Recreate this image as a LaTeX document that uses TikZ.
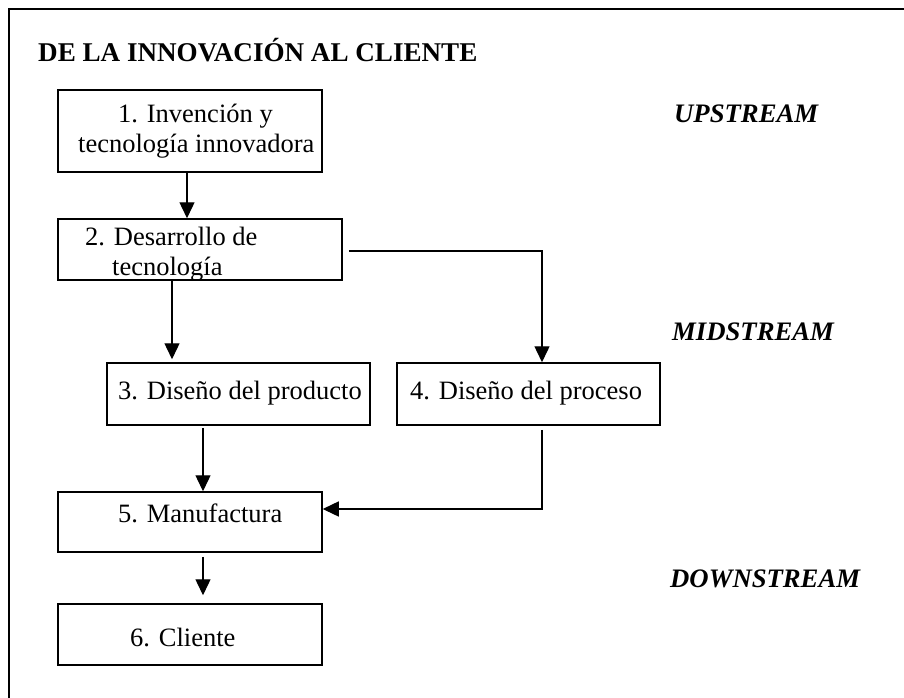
\documentclass[tikz,border=0pt]{standalone}
\usepackage{fontspec}
\setmainfont{Liberation Serif}
\usetikzlibrary{arrows.meta}
\begin{document}
\begin{tikzpicture}[x=1pt,y=-1pt,
  box/.style={draw,line width=1.5pt,inner sep=0pt},
  txt/.style={anchor=base west,inner sep=0pt,font=\fontsize{26.5}{30}\selectfont},
  lbl/.style={txt,font=\fontsize{26.7}{30}\selectfont\bfseries\itshape},
  arr/.style={line width=1.4pt,-{Triangle[width=15pt,length=16pt]}},
  con/.style={line width=1.4pt}]
\useasboundingbox[fill=white] (0,0) rectangle (904,698);
\draw[line width=1.5pt] (904,9) -- (9,9) -- (9,698);
% title and stream labels
\node[txt,font=\fontsize{27.1}{30}\selectfont\bfseries] (title) at (38,62) {DE LA INNOVACIÓN AL CLIENTE};
\node[lbl] (up) at (674,123) {UPSTREAM};
\node[lbl] (mid) at (672,340) {MIDSTREAM};
\node[lbl] (down) at (670,587) {DOWNSTREAM};
% boxes
\node[box,minimum width=264pt,minimum height=82pt] (b1) at (190,131) {};
\node[box,minimum width=284pt,minimum height=61pt] (b2) at (200,249.5) {};
\node[box,minimum width=263pt,minimum height=62pt] (b3) at (238.5,394) {};
\node[box,minimum width=263pt,minimum height=62pt] (b4) at (528.5,394) {};
\node[box,minimum width=264pt,minimum height=60pt] (b5) at (190,522) {};
\node[box,minimum width=264pt,minimum height=61pt] (b6) at (190,634.5) {};
% box texts
\node[txt] (t1a) at (118,122) {1. Invención y};
\node[txt] (t1b) at (78,152) {tecnología innovadora};
\node[txt] (t2a) at (85,245) {2. Desarrollo de};
\node[txt] (t2b) at (112,275) {tecnología};
\node[txt] (t3) at (118,399) {3. Diseño del producto};
\node[txt] (t4) at (410,399) {4. Diseño del proceso};
\node[txt] (t5) at (118,522) {5. Manufactura};
\node[txt] (t6) at (130,646) {6. Cliente};
% connectors
\coordinate (s1) at ([xshift=-3pt]b1.south);
\draw[arr] (s1) -- (s1 |- b2.north);
\coordinate (s2) at ([xshift=-28pt]b2.south);
\coordinate (n3) at ([xshift=-66.5pt,yshift=3pt]b3.north);
\draw[arr] (s2) -- (s2 |- n3);
\coordinate (e2) at ([xshift=6pt,yshift=-1.5pt]b2.east);
\coordinate (n4) at ([xshift=13.5pt]b4.north);
\draw[arr] (e2) -| (n4);
\coordinate (s3) at ([xshift=-35.5pt,yshift=-2pt]b3.south);
\draw[arr] (s3) -- (s3 |- b5.north);
\coordinate (s4) at ([xshift=13.5pt,yshift=-4pt]b4.south);
\coordinate (e5) at ([yshift=13pt]b5.east);
\draw[arr] (s4) |- (e5);
\coordinate (s5) at ([xshift=13pt,yshift=-4pt]b5.south);
\coordinate (n6) at ([xshift=13pt,yshift=8pt]b6.north);
\draw[arr] (s5) -- (n6);
\end{tikzpicture}
\end{document}
